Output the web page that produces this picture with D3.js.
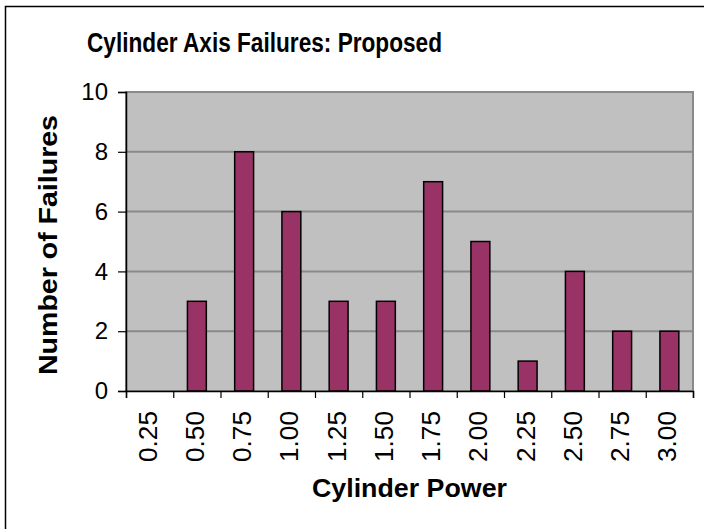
<!DOCTYPE html>
<html>
<head>
<meta charset="utf-8">
<script src="https://cdn.jsdelivr.net/npm/d3@7"></script>
<style>
  body { margin: 0; background: #fff; }
  svg { display: block; font-family: "Liberation Sans", Arial, sans-serif; }
</style>
</head>
<body>
<div id="chart"></div>
<script>
// data
const powers = ["0.25", "0.50", "0.75", "1.00", "1.25", "1.50", "1.75", "2.00", "2.25", "2.50", "2.75", "3.00"];
const failures = [0, 3, 8, 6, 3, 3, 7, 5, 1, 4, 2, 2];
const yTicks = [0, 2, 4, 6, 8, 10];

const width = 704, height = 529;
const plot = { left: 126, right: 693, top: 92, bottom: 391 };

const svg = d3.select("#chart")
    .append("svg")
    .attr("width", width)
    .attr("height", height);

// outer chart border (right / bottom fall outside the picture)
svg.append("rect")
    .attr("x", 5.5).attr("y", 6.5)
    .attr("width", 740).attr("height", 560)
    .attr("fill", "none")
    .attr("stroke", "#000")
    .attr("stroke-width", 1.5);

const x = d3.scaleBand()
    .domain(powers)
    .range([plot.left, plot.right])
    .padding(0);

const xEdge = d3.scaleLinear()
    .domain([0, powers.length])
    .range([plot.left, plot.right]);

const y = d3.scaleLinear()
    .domain([0, 10])
    .range([plot.bottom, plot.top]);

// plot area
svg.append("rect")
    .attr("x", plot.left).attr("y", plot.top)
    .attr("width", plot.right - plot.left)
    .attr("height", plot.bottom - plot.top)
    .attr("fill", "#c0c0c0")
    .attr("stroke", "#8a8a8a")
    .attr("stroke-width", 2);

// gridlines
svg.append("g")
    .selectAll("line")
    .data(yTicks.filter(d => d > 0))
    .enter()
    .append("line")
    .attr("x1", plot.left).attr("x2", plot.right)
    .attr("y1", d => y(d)).attr("y2", d => y(d))
    .attr("stroke", "#8a8a8a")
    .attr("stroke-width", 2);

// bars
const bw = x.bandwidth() * 0.4;
svg.selectAll(".bar")
    .data(powers)
    .enter()
    .append("rect")
    .attr("class", "bar")
    .attr("x", (d) => x(d) + (x.bandwidth() - bw) / 2)
    .attr("width", bw)
    .attr("y", (d, i) => y(failures[i]))
    .attr("height", (d, i) => plot.bottom - y(failures[i]))
    .attr("fill", "#993366")
    .attr("stroke", "#000")
    .attr("stroke-width", 1.5);

// y axis
const yAxis = svg.append("g")
    .attr("transform", `translate(${plot.left},0)`)
    .call(d3.axisLeft(y).tickValues(yTicks).tickSize(8).tickPadding(10));
yAxis.select(".domain").attr("stroke", "#000").attr("stroke-width", 1.5);
yAxis.selectAll(".tick line").attr("stroke", "#000").attr("stroke-width", 1.2);
yAxis.selectAll(".tick text")
    .attr("font-size", "24px")
    .attr("font-family", "Liberation Sans, Arial, sans-serif")
    .attr("fill", "#000");

// x axis: ticks between categories
const xAxis = svg.append("g")
    .attr("transform", `translate(0,${plot.bottom})`)
    .call(d3.axisBottom(xEdge).tickValues(d3.range(powers.length + 1)).tickSize(7).tickFormat(""));
xAxis.select(".domain").attr("stroke", "#000").attr("stroke-width", 1.5);
xAxis.selectAll(".tick line").attr("stroke", "#000").attr("stroke-width", 1.2);

// rotated category labels
svg.append("g")
    .selectAll("text")
    .data(powers)
    .enter()
    .append("text")
    .attr("transform", d => `translate(${x(d) + x.bandwidth() / 2 + 7},411) rotate(-90)`)
    .attr("text-anchor", "end")
    .attr("font-size", "25px")
    .attr("textLength", 51)
    .attr("lengthAdjust", "spacingAndGlyphs")
    .text(d => d);

// titles
svg.append("text")
    .attr("x", 87).attr("y", 52)
    .attr("font-size", "28px")
    .attr("font-weight", "bold")
    .attr("textLength", 355)
    .attr("lengthAdjust", "spacingAndGlyphs")
    .text("Cylinder Axis Failures: Proposed");

svg.append("text")
    .attr("x", 312).attr("y", 497)
    .attr("font-size", "25px")
    .attr("font-weight", "bold")
    .attr("textLength", 195)
    .attr("lengthAdjust", "spacingAndGlyphs")
    .text("Cylinder Power");

svg.append("text")
    .attr("transform", "translate(57,375) rotate(-90)")
    .attr("font-size", "25px")
    .attr("font-weight", "bold")
    .attr("textLength", 260)
    .attr("lengthAdjust", "spacingAndGlyphs")
    .text("Number of Failures");
</script>
</body>
</html>
